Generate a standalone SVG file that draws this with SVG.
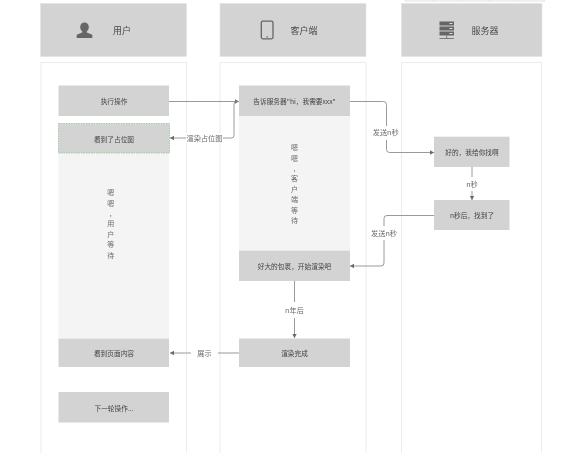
<svg xmlns="http://www.w3.org/2000/svg" width="565" height="453" viewBox="0 0 565 453">
<style>
text{font-family:"Noto Sans CJK SC","Liberation Sans",sans-serif;fill:#444;text-anchor:middle;dominant-baseline:central}
.h{fill:#d3d3d3;stroke:#e4e4e4;stroke-width:.7}
.lane{fill:#fff;stroke:#ececec;stroke-width:1}
.n{fill:#d3d3d3}
.p{fill:#f4f4f4}
.t{font-size:6.700px}
.ht{font-size:9px;fill:#4a4a4a}
.v{font-size:7px;fill:#6a6a6a}
.l{font-size:7.200px;fill:#6a6a6a}
.c{fill:none;stroke:#8e8e8e;stroke-width:.9}
.lb{fill:#fff}
.i{fill:#666}
</style>
<defs>
<marker id="a" markerUnits="userSpaceOnUse" markerWidth="6" markerHeight="6" refX="4" refY="3" orient="auto"><path d="M0 .8L4 3L0 5.200z" fill="#6a6a6a"/></marker>
<filter id="s" x="0" y="0" width="100%" height="100%"><feGaussianBlur stdDeviation="0.35"/></filter>
</defs>
<rect width="565" height="453" fill="#fff"/>
<g filter="url(#s)">
<g id="top-table" fill="none" stroke="#d8d8d8" stroke-width=".8"><path d="M405 -2V1H545V-2M433 -2V1M461 -2V1M489 -2V1M517 -2V1"/></g>
<g id="lane-user"><rect class="h" x="40.500" y="3.500" width="146" height="53"/><rect class="lane" x="41" y="62.500" width="145.500" height="400"/>
<path class="i" d="M84.500 22.500a4.300 4.300 0 0 1 4.300 4.500c0 2-.8 3.500-2 4.300v1.200l5.500 2.300v3.200H76.700v-3.200l5.500-2.300v-1.200c-1.200-.8-2-2.300-2-4.300a4.300 4.300 0 0 1 4.300-4.500z"/><text class="ht" x="122" y="30">用户</text></g>
<g id="lane-client"><rect class="h" x="220" y="3.500" width="146" height="53"/><rect class="lane" x="220" y="62.500" width="146" height="400"/>
<rect x="261.300" y="21.200" width="11.700" height="17.600" rx="1.500" fill="none" stroke="#666" stroke-width="1.300"/><circle cx="267.200" cy="37" r=".8" fill="#666"/><text class="ht" x="304" y="30">客户端</text></g>
<g id="lane-server"><rect class="h" x="401.500" y="3.500" width="140.500" height="53"/><rect class="lane" x="401.500" y="62.500" width="140" height="400"/>
<path class="i" d="M439.500 21.500h14.500v4h-14.500zM439.500 26.500h14.500v4h-14.500zM439.500 31.500h14.500v4h-14.500z"/><path d="M449.500 23.500h3M449.500 28.500h3M449.500 33.500h3" stroke="#ddd" stroke-width="1" fill="none"/><path d="M446.700 35.500v3.500M439.500 38.500h14.500" stroke="#666" stroke-width=".8" fill="none"/><text class="ht" x="485" y="30">服务器</text></g>
<g id="wait-user"><rect class="p" x="58.500" y="153" width="110.500" height="185"/>
<text class="v" x="110.700" y="192">嗯</text><text class="v" x="110.700" y="203">嗯</text><text class="v" x="110.700" y="213">,</text><text class="v" x="110.700" y="223">用</text><text class="v" x="110.700" y="233.500">户</text><text class="v" x="110.700" y="244">等</text><text class="v" x="110.700" y="254.500">待</text></g>
<g id="wait-client"><rect class="p" x="239" y="116" width="111" height="135"/>
<text class="v" x="294.500" y="147">嗯</text><text class="v" x="294.500" y="158">嗯</text><text class="v" x="294.500" y="168">,</text><text class="v" x="294.500" y="178">客</text><text class="v" x="294.500" y="188.500">户</text><text class="v" x="294.500" y="199">端</text><text class="v" x="294.500" y="209.500">等</text><text class="v" x="294.500" y="220">待</text></g>
<g id="connectors">
<path class="c" marker-end="url(#a)" d="M169 101.500H239"/>
<path class="c" marker-end="url(#a)" d="M239 101.500H236.500Q234 101.500 234 104V135.500Q234 138 231.500 138H170"/>
<path class="c" marker-end="url(#a)" d="M350 101.500H383.500Q386.500 101.500 386.500 104.500V149.500Q386.500 152.500 389.500 152.500H434"/>
<path class="c" marker-end="url(#a)" d="M472 167V200"/>
<path class="c" marker-end="url(#a)" d="M434 215.500H387Q384 215.500 384 218.500V263Q384 266 381 266H350"/>
<path class="c" marker-end="url(#a)" d="M294.500 281V338"/>
<path class="c" marker-end="url(#a)" d="M239 353H170"/>
<rect class="lb" x="186" y="133" width="37" height="10"/><text class="l" x="204.500" y="138">渲染占位图</text>
<rect class="lb" x="372" y="126" width="27" height="14"/><text class="l" x="385.700" y="132">发送n秒</text>
<rect class="lb" x="465" y="177" width="14" height="14"/><text class="l" x="472" y="184">n秒</text>
<rect class="lb" x="370" y="226" width="28" height="14"/><text class="l" x="384" y="233">发送n秒</text>
<rect class="lb" x="284" y="302" width="21" height="16"/><text class="l" x="294.500" y="310">n年后</text>
<rect class="lb" x="191" y="348" width="27" height="10"/><text class="l" x="204.500" y="353">展示</text>
</g>
<g id="n1"><rect class="n" x="58.500" y="85.500" width="110.500" height="30.500"/><text class="t" x="114" y="101">执行操作</text></g>
<g id="n2"><rect class="n" x="58.500" y="123.500" width="111" height="29.500" stroke="#8fc48f" stroke-width=".8" stroke-dasharray="1.500 1"/><text class="t" x="114" y="138.500">看到了占位图</text></g>
<g id="n3"><rect class="n" x="58.500" y="338.500" width="110.500" height="28.500"/><text class="t" x="114" y="353">看到页面内容</text></g>
<g id="n4"><rect class="n" x="58.500" y="392" width="110.500" height="30.500"/><text class="t" x="114" y="407.500">下一轮操作...</text></g>
<g id="n5"><rect class="n" x="239" y="85.500" width="111" height="30.500"/><text class="t" x="294.500" y="101">告诉服务器"hi，我需要xxx"</text></g>
<g id="n6"><rect class="n" x="239" y="250.700" width="111" height="30.300"/><text class="t" x="294.500" y="266">好大的包裹，开始渲染吧</text></g>
<g id="n7"><rect class="n" x="239" y="338.500" width="111" height="28.500"/><text class="t" x="294.500" y="353">渲染完成</text></g>
<g id="n8"><rect class="n" x="434" y="136.700" width="75.500" height="30.300"/><text class="t" x="472" y="152">好的，我给你找啊</text></g>
<g id="n9"><rect class="n" x="434" y="200" width="75.500" height="30"/><text class="t" x="472" y="215">n秒后，找到了</text></g>
</g>
</svg>
